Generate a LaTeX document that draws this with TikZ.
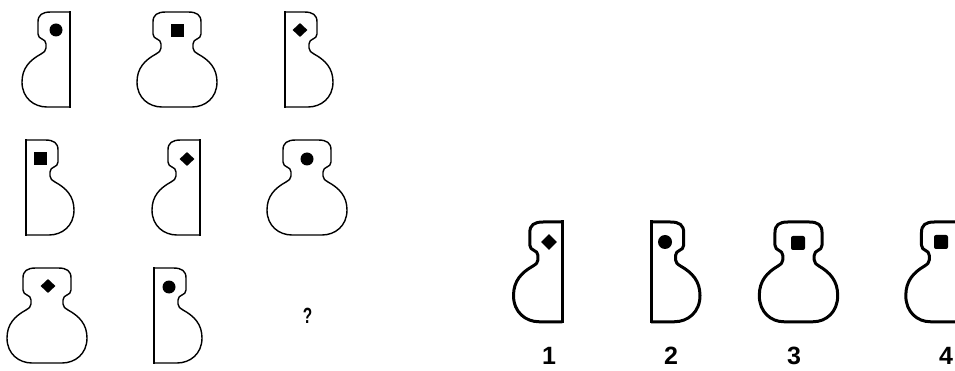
\documentclass[tikz,border=0pt]{standalone}
\usepackage{fontspec}
\setmainfont{Liberation Sans}
\usetikzlibrary{shapes.geometric}
\newcommand{\gourdpath}{(0,0) -- (11,0) .. controls (20,0) and (24,3) .. (24,10) -- (24,22)
 .. controls (24,28) and (16,26) .. (16,32) -- (16,36)
 .. controls (16,39) and (18,40) .. (21,42)
 .. controls (32,48) and (40,56) .. (40,70)
 .. controls (40,86) and (28,95) .. (15,95) -- (-15,95)
 .. controls (-28,95) and (-40,86) .. (-40,70)
 .. controls (-40,56) and (-32,48) .. (-21,42)
 .. controls (-18,40) and (-16,39) .. (-16,36) -- (-16,32)
 .. controls (-16,26) and (-24,28) .. (-24,22) -- (-24,10)
 .. controls (-24,3) and (-20,0) .. (-11,0) -- cycle}
\tikzset{
  gfull/.pic={\draw[line join=round] \gourdpath;},
  gleft/.pic={\begin{scope}\clip (-60,-10) rectangle (8,110);
      \draw[line join=round] \gourdpath;\end{scope}
      \draw[line cap=rect] (8,0) -- (8,95);},
  gright/.pic={\begin{scope}\clip (-8,-10) rectangle (60,110);
      \draw[line join=round] \gourdpath;\end{scope}
      \draw[line cap=rect] (-8,0) -- (-8,95);},
  thinshape/.style={line width=1.4pt},
  thickshape/.style={line width=3pt},
  dotm/.style={circle, fill=black, inner sep=0pt, minimum size=13pt},
  sqm/.style={rectangle, fill=black, inner sep=0pt, minimum size=13pt},
  diam/.style={diamond, fill=black, inner sep=0pt, minimum width=15pt, minimum height=14pt},
  adotm/.style={circle, fill=black, inner sep=0pt, minimum size=14pt},
  asqm/.style={rectangle, rounded corners=2pt, fill=black, inner sep=0pt, minimum size=14pt},
  adiam/.style={diamond, fill=black, inner sep=0pt, minimum size=16pt},
  numlab/.style={inner sep=0pt, font=\fontsize{25}{25}\selectfont\bfseries},
  qlab/.style={inner sep=0pt, font=\fontsize{22}{22}\selectfont\bfseries, xscale=0.7}
}
\begin{document}
\begin{tikzpicture}[x=1pt,y=-1pt]
\useasboundingbox (0,0) rectangle (955,371);
\fill[white] (0,0) rectangle (955,371);
\clip (0,0) rectangle (955,371);
% row 1
\pic[thinshape] (a1) at (62,12) {gleft};
\node[dotm] (a1m) at (56,30) {};
\pic[thinshape] (a2) at (177,12) {gfull};
\node[sqm] (a2m) at (177.5,31) {};
\pic[thinshape] (a3) at (293,12) {gright};
\node[diam] (a3m) at (300,30) {};
% row 2
\pic[thinshape] (b1) at (34,140) {gright};
\node[sqm] (b1m) at (40,159) {};
\pic[thinshape] (b2) at (192,140) {gleft};
\node[diam] (b2m) at (187,159) {};
\pic[thinshape] (b3) at (307,140) {gfull};
\node[dotm] (b3m) at (307,159) {};
% row 3
\pic[thinshape] (c1) at (47,268) {gfull};
\node[diam] (c1m) at (48,286) {};
\pic[thinshape] (c2) at (162,268) {gright};
\node[dotm] (c2m) at (169,287) {};
\node[qlab] (q) at (307.5,316) {?};
% answers
\pic[thickshape, xscale=1.02, yscale=1.05] (r1) at (554.3,222) {gleft};
\node[adiam] (r1m) at (549,242) {};
\pic[thickshape, xscale=1.02, yscale=1.05] (r2) at (659.2,222) {gright};
\node[adotm] (r2m) at (665,242) {};
\pic[thickshape, xscale=0.98, yscale=1.05] (r3) at (798.5,222) {gfull};
\node[asqm] (r3m) at (798,243) {};
\pic[thickshape, xscale=0.98, yscale=1.05] (r4) at (945,222) {gfull};
\node[asqm] (r4m) at (941,242) {};
\node[numlab] (l1) at (549,356) {1};
\node[numlab] (l2) at (671,356) {2};
\node[numlab] (l3) at (794,356) {3};
\node[numlab] (l4) at (946,356) {4};
\end{tikzpicture}
\end{document}
